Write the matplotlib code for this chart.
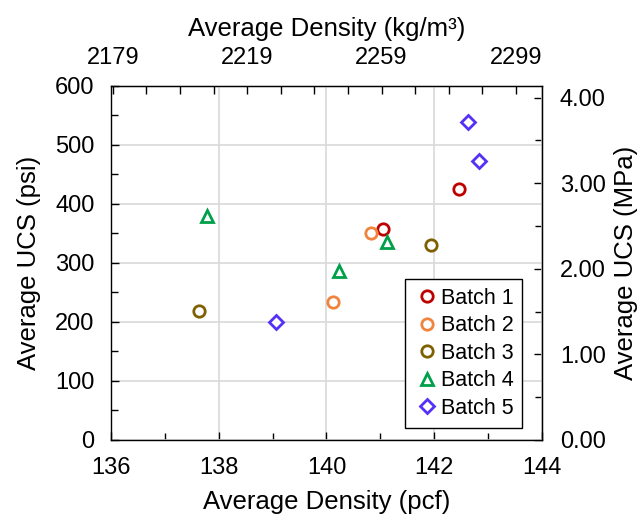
import numpy as np
import matplotlib
matplotlib.use('Agg')
import matplotlib.pyplot as plt
from matplotlib.ticker import MultipleLocator, FixedLocator, FormatStrFormatter

plt.rcParams['font.family'] = ['Liberation Sans', 'DejaVu Sans']

# Average density (pcf) and average UCS (psi) for each batch
batches = ['Batch 1', 'Batch 2', 'Batch 3', 'Batch 4', 'Batch 5']
density = [
    [141.05, 142.46],
    [140.12, 140.82],
    [137.63, 141.94],
    [137.79, 140.23, 141.13],
    [139.06, 142.62, 142.83],
]
ucs = [
    [358, 425],
    [233, 351],
    [218, 331],
    [379, 286, 336],
    [200, 538, 473],
]
colors = ['#C00000', '#F0843C', '#7F6000', '#00A04A', '#5530F5']
markers = ['o', 'o', 'o', '^', 'D']
msizes = [8.2, 8.2, 8.2, 8.5, 6.8]

PCF_TO_KGM3 = 16.0185
PSI_TO_MPA = 1 / 145.038

fig = plt.figure(figsize=(6.42, 5.17), dpi=100)
ax = fig.add_axes([0.173, 0.149, 0.671, 0.685])

for name, xs, ys, c, m, ms in zip(batches, density, ucs, colors, markers, msizes):
    ax.plot(xs, ys, linestyle='none', marker=m, markersize=ms,
            markerfacecolor='white', markeredgecolor=c, markeredgewidth=2,
            label=name)

ax.set_xlim(136, 144)
ax.set_ylim(0, 600)
ax.xaxis.set_major_locator(MultipleLocator(2))
ax.xaxis.set_minor_locator(MultipleLocator(1))
ax.yaxis.set_major_locator(MultipleLocator(100))
ax.yaxis.set_minor_locator(MultipleLocator(50))
ax.grid(True, which='major', color='#D9D9D9', linewidth=1.2)
ax.set_axisbelow(True)

ax.tick_params(which='both', direction='in', labelsize=17, pad=12)
ax.tick_params(which='major', length=6, width=1)
ax.tick_params(which='minor', length=5, width=1)
for sp in ax.spines.values():
    sp.set_linewidth(1)
    sp.set_color('black')

ax.set_xlabel('Average Density (pcf)', fontsize=18.5, labelpad=8)
ax.set_ylabel('Average UCS (psi)', fontsize=18.5, labelpad=10)

# top axis in kg/m3
top = ax.secondary_xaxis('top', functions=(lambda x: x * PCF_TO_KGM3,
                                           lambda x: x / PCF_TO_KGM3))
top.xaxis.set_major_locator(FixedLocator([2179, 2219, 2259, 2299]))
top.xaxis.set_minor_locator(FixedLocator(np.arange(2179, 2310, 10)))
top.tick_params(which='both', direction='in', labelsize=17, pad=12)
top.tick_params(which='major', length=6, width=1)
top.tick_params(which='minor', length=6, width=1)
top.set_xlabel('Average Density (kg/m³)', fontsize=18.5, labelpad=8)

# right axis in MPa
right = ax.secondary_yaxis('right', functions=(lambda y: y * PSI_TO_MPA,
                                               lambda y: y / PSI_TO_MPA))
right.yaxis.set_major_locator(MultipleLocator(1))
right.yaxis.set_minor_locator(MultipleLocator(0.5))
right.yaxis.set_major_formatter(FormatStrFormatter('%.2f'))
right.tick_params(which='both', direction='in', labelsize=17, pad=13)
right.tick_params(which='major', length=6, width=1)
right.tick_params(which='minor', length=5, width=1)
right.set_ylabel('Average UCS (MPa)', fontsize=18.5, labelpad=6)

leg = ax.legend(loc='lower right', bbox_to_anchor=(0.955, 0.035), fontsize=15.5,
                frameon=True, fancybox=False, handletextpad=0.05,
                handlelength=1.2, borderpad=0.42, labelspacing=0.3,
                borderaxespad=0)
leg.get_frame().set_edgecolor('black')
leg.get_frame().set_linewidth(1)
leg.get_frame().set_alpha(1)

fig.savefig('out.png', dpi=100)
